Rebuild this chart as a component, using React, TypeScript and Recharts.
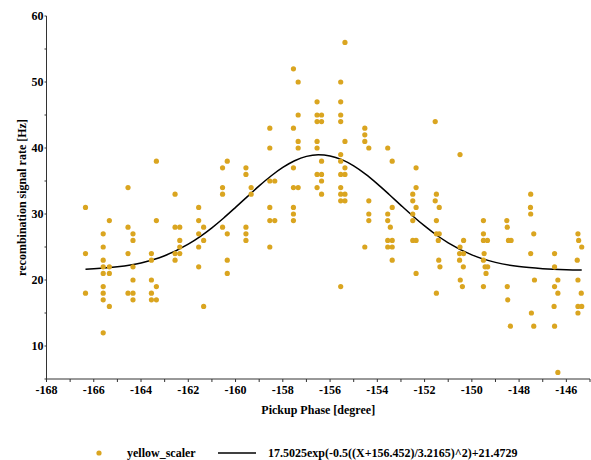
import React from 'react';
import { ComposedChart, Scatter, Line, XAxis, YAxis } from 'recharts';

// Measured points: phase [degree] and rate [Hz]
const phase: number[] = [
  -166.35, -166.35, -166.35,
  -165.6, -165.6, -165.6, -165.6, -165.6, -165.6, -165.6, -165.6, -165.6,
  -165.34, -165.34, -165.34, -165.34,
  -164.55, -164.55, -164.55, -164.55,
  -164.34, -164.34, -164.34, -164.34, -164.34, -164.34,
  -163.56, -163.56, -163.56, -163.56, -163.56,
  -163.35, -163.35, -163.35, -163.35,
  -162.56, -162.56, -162.56, -162.56,
  -162.36, -162.36, -162.36, -162.36,
  -161.56, -161.56, -161.56, -161.56, -161.56,
  -161.35, -161.35, -161.35,
  -160.55, -160.55, -160.55, -160.55,
  -160.35, -160.35, -160.35, -160.35,
  -159.56, -159.56, -159.56, -159.56, -159.56,
  -159.34, -159.34,
  -158.55, -158.55, -158.55, -158.55, -158.55, -158.55,
  -158.34, -158.34,
  -157.55, -157.55, -157.55, -157.55, -157.55, -157.55, -157.55,
  -157.35, -157.35, -157.35, -157.35, -157.35,
  -156.55, -156.55, -156.55, -156.55, -156.55, -156.55, -156.55,
  -156.36, -156.36, -156.36, -156.36, -156.36, -156.36,
  -155.55, -155.55, -155.55, -155.55, -155.55, -155.55, -155.55, -155.55, -155.55, -155.55, -155.55,
  -155.37, -155.37, -155.37, -155.37, -155.37, -155.37,
  -154.53, -154.53, -154.53, -154.53,
  -154.36, -154.36, -154.36, -154.36,
  -153.56, -153.56, -153.56, -153.56, -153.56,
  -153.37, -153.37, -153.45, -153.37, -153.37, -153.37,
  -152.5, -152.5, -152.5, -152.5, -152.5,
  -152.36, -152.36, -152.36, -152.36, -152.36,
  -151.55, -151.55, -151.5, -151.5, -151.5,
  -151.5, -151.38, -151.38, -151.42, -151.4, -151.35,
  -150.5, -150.5, -150.52, -150.52, -150.49,
  -150.35, -150.35, -150.36, -150.4,
  -149.51, -149.51, -149.51, -149.48, -149.51, -149.44, -149.4, -149.51,
  -149.34, -149.33,
  -148.52, -148.5, -148.45, -148.5, -148.48,
  -148.34, -148.37,
  -147.51, -147.52, -147.51, -147.51, -147.48,
  -147.38, -147.35, -147.38,
  -146.5, -146.5, -146.5, -146.52, -146.5,
  -146.36, -146.36, -146.36,
  -145.51, -145.48, -145.54, -145.51, -145.51, -145.51,
  -145.35, -145.37, -145.35,
];

const rate: number[] = [
  31, 24, 18,
  27, 25, 23, 22, 21, 19, 18, 17, 12,
  29, 22, 21, 16,
  34, 28, 24, 18,
  27, 26, 22, 20, 18, 17,
  24, 23, 20, 18, 17,
  38, 29, 19, 17,
  33, 28, 24, 23,
  28, 26, 25, 24,
  31, 29, 27, 25, 22,
  28, 26, 16,
  37, 34, 33, 28,
  38, 27, 23, 21,
  37, 36, 28, 27, 26,
  34, 33,
  43, 40, 35, 31, 29, 25,
  35, 29,
  52, 43, 37, 34, 31, 30, 29,
  50, 45, 41, 40, 34,
  47, 45, 44, 41, 40, 36, 34,
  45, 44, 38, 36, 35, 33,
  50, 47, 45, 44, 39, 38, 36, 34, 33, 32, 19,
  56, 41, 37, 36, 33, 32,
  43, 42, 41, 25,
  40, 32, 30, 29,
  40, 30, 29, 26, 25,
  38, 31, 28, 26, 25, 23,
  33, 32, 30, 29, 26,
  37, 34, 31, 26, 21,
  44, 32, 29, 27, 18,
  33, 31, 27, 26, 23, 22,
  39, 25, 24, 23, 20,
  26, 24, 22, 19,
  29, 27, 26, 24, 23, 22, 21, 19,
  26, 22,
  29, 28, 26, 19, 17,
  26, 13,
  33, 31, 30, 24, 15,
  27, 20, 13,
  24, 22, 19, 16, 13,
  20, 18, 6,
  27, 26, 23, 20, 16, 15,
  25, 18, 16,
];

// Fitted curve as drawn
const fitPhase: number[] = [
  -166.35, -166, -165, -164, -163, -162, -161.5, -161, -160.5, -160, -159.5, -159,
  -158.5, -158, -157.5, -157, -156.5, -156, -155.5, -155, -154.5, -154, -153.5,
  -153, -152.5, -152, -151.5, -151, -150, -149, -148, -147, -146, -145.35,
];
const fitRate: number[] = [
  21.63, 21.69, 21.99, 22.59, 23.68, 25.43, 26.58, 27.91, 29.4, 31.0, 32.64, 34.26,
  35.76, 37.06, 38.07, 38.73, 38.97, 38.8, 38.23, 37.28, 36.03, 34.56, 32.96,
  31.31, 29.7, 28.19, 26.82, 25.64, 23.81, 22.67, 22.03, 21.71, 21.56, 21.52,
];

const xTicks: number[] = [
  -168, -167, -166, -165, -164, -163, -162, -161, -160, -159, -158, -157, -156,
  -155, -154, -153, -152, -151, -150, -149, -148, -147, -146, -145,
];
const yTicks: number[] = [5, 10, 15, 20, 25, 30, 35, 40, 45, 50, 55, 60];

const seriesName = 'yellow_scaler';
const fitName = '17.5025exp(-0.5((X+156.452)/3.2165)^2)+21.4729';
const xTitle = 'Pickup Phase [degree]';
const yTitle = 'recombination signal rate [Hz]';

const points = phase.map((p, i) => ({ phase: p, rate: rate[i] }));
const fitData = fitPhase.map((p, i) => ({ phase: p, rate: fitRate[i] }));

const DOT = '#DAA520';
const FONT = "'Liberation Serif', 'Times New Roman', serif";
const tickStyle = { fill: '#000', fontSize: 12, fontWeight: 700, fontFamily: FONT };

const Dot = (props: any) => {
  const { cx, cy } = props;
  if (cx == null || cy == null) return null;
  return <circle cx={cx} cy={cy} r={2.6} fill={DOT} />;
};

export default function App() {
  return (
    <div style={{ position: 'absolute', left: 0, top: 0, width: 591, height: 460, background: '#fff', fontFamily: FONT }}>
      <ComposedChart width={591} height={460} margin={{ top: 16, right: 1, left: 0.5, bottom: 41 }}>
        <XAxis
          type="number"
          dataKey="phase"
          domain={[-168, -145]}
          ticks={xTicks}
          interval={0}
          allowDataOverflow
          tickFormatter={(v: number) => (v % 2 === 0 ? String(v) : '')}
          tick={tickStyle}
          tickSize={3}
          tickMargin={3}
          height={40}
          stroke="#333"
          label={{ value: xTitle, position: 'insideTop', offset: 26, style: { fill: '#000', fontSize: 12, fontWeight: 700, fontFamily: FONT } }}
        />
        <YAxis
          type="number"
          dataKey="rate"
          domain={[5, 60]}
          ticks={yTicks}
          interval={0}
          allowDataOverflow
          tickFormatter={(v: number) => (v % 10 === 0 ? String(v) : '')}
          tick={tickStyle}
          tickSize={2}
          tickMargin={1}
          width={46}
          stroke="#333"
          label={{ value: yTitle, angle: -90, position: 'center', dx: -2, style: { fill: '#000', fontSize: 12, fontWeight: 700, fontFamily: FONT, textAnchor: 'middle' } }}
        />
        <Scatter data={points} dataKey="rate" fill={DOT} shape={<Dot />} isAnimationActive={false} />
        <Line data={fitData} dataKey="rate" type="monotone" dot={false} activeDot={false} stroke="#000" strokeWidth={1.5} isAnimationActive={false} />
      </ComposedChart>
      <svg width={591} height={30} style={{ position: 'absolute', left: 0, top: 440 }}>
        <circle cx={99} cy={13} r={2.6} fill={DOT} />
        <text x={127} y={17} fontSize={12} fontWeight={700} fontFamily={FONT} fill="#000">{seriesName}</text>
        <line x1={218} x2={256} y1={13} y2={13} stroke="#000" strokeWidth={1.5} />
        <text x={268} y={17} fontSize={12} fontWeight={700} fontFamily={FONT} fill="#000">{fitName}</text>
      </svg>
    </div>
  );
}
